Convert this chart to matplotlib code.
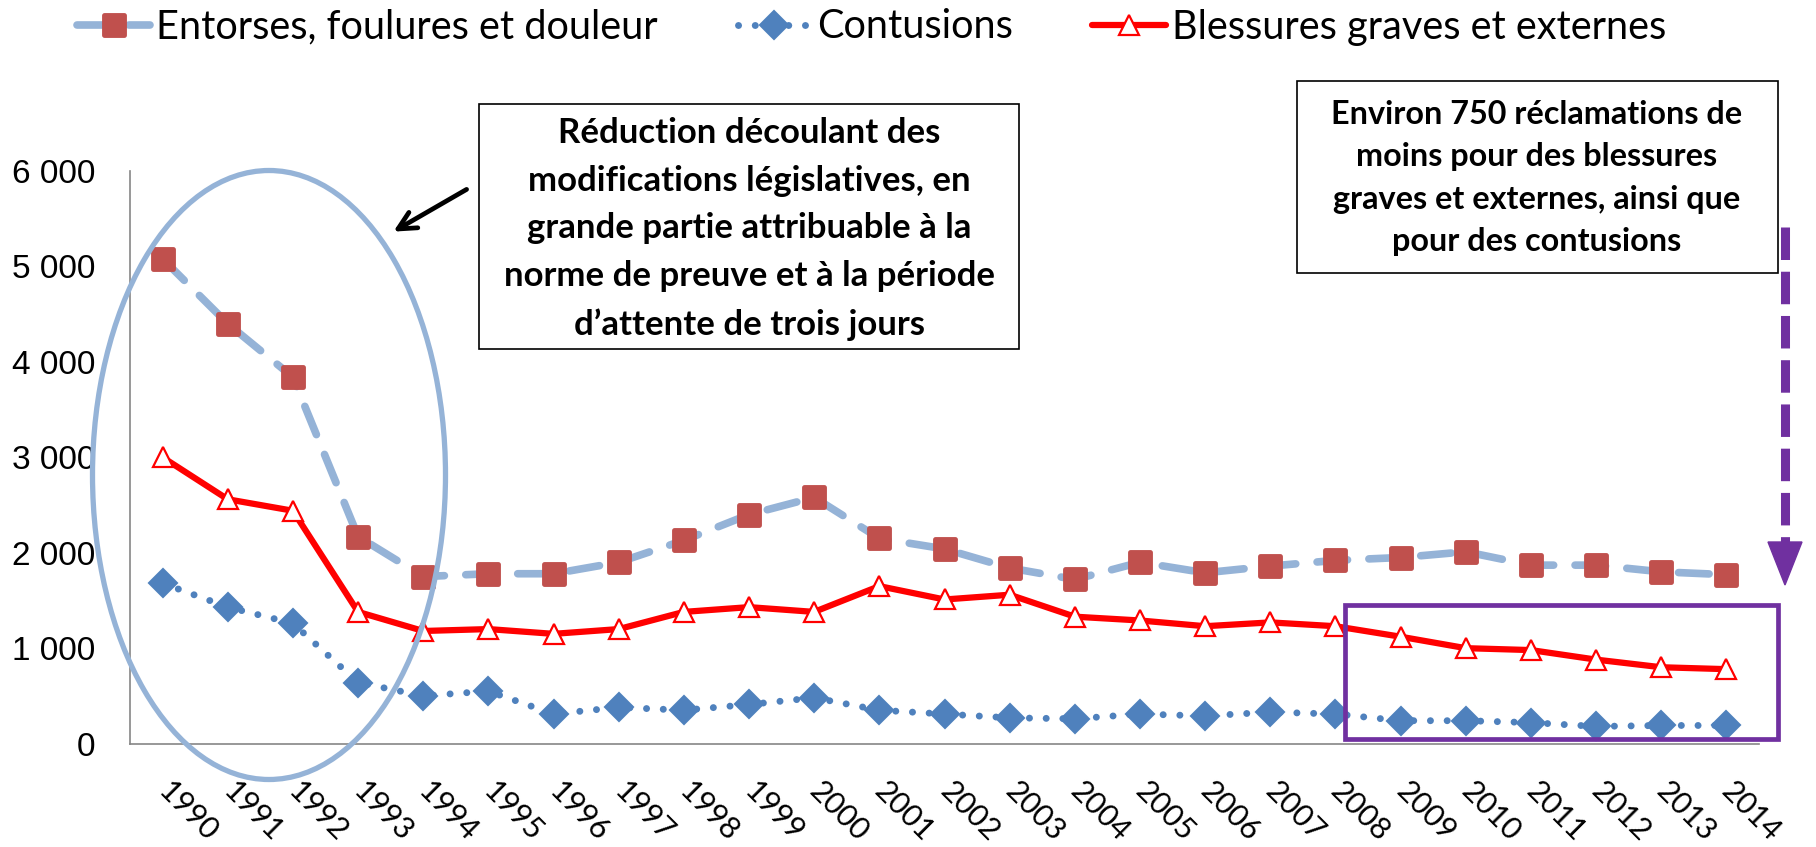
import numpy as np
import matplotlib.pyplot as plt
from matplotlib.patches import Ellipse, Rectangle, Polygon
from matplotlib.lines import Line2D
from matplotlib.markers import MarkerStyle

plt.rcParams['font.family'] = ['Lato', 'DejaVu Sans']

# données
annees = ['1990', '1991', '1992', '1993', '1994', '1995', '1996', '1997', '1998',
          '1999', '2000', '2001', '2002', '2003', '2004', '2005', '2006', '2007',
          '2008', '2009', '2010', '2011', '2012', '2013', '2014']
entorses = [5080, 4400, 3840, 2170, 1750, 1780, 1780, 1900, 2130, 2400, 2580, 2150,
            2040, 1840, 1720, 1900, 1790, 1860, 1920, 1950, 2010, 1870, 1870, 1800, 1770]
contusions = [1680, 1430, 1260, 640, 500, 550, 310, 380, 350, 410, 480, 350,
              310, 270, 260, 310, 290, 330, 310, 240, 240, 220, 180, 190, 190]
blessures = [3000, 2560, 2440, 1380, 1180, 1200, 1150, 1200, 1380, 1430, 1380, 1650,
             1510, 1560, 1330, 1290, 1230, 1270, 1230, 1120, 1000, 980, 880, 800, 780]
y_ticks = [0, 1000, 2000, 3000, 4000, 5000, 6000]
noms = ['Entorses, foulures et douleur', 'Contusions', 'Blessures graves et externes']

texte_gauche = ("Réduction découlant des\nmodifications législatives, en\n"
                "grande partie attribuable à la\nnorme de preuve et à la période\n"
                "d’attente de trois jours")
texte_droite = ("Environ 750 réclamations de\nmoins pour des blessures\n"
                "graves et externes, ainsi que\npour des contusions")

W, H = 1816, 847


def fx(px):
    return px / W


def fy(py):
    # py measured from the top of the image
    return 1 - py / H


fig = plt.figure(figsize=(W / 100, H / 100), dpi=100)
ax = fig.add_axes([fx(130), fy(743.6), fx(1759 - 130), (743.6 - 171) / H])

x = np.arange(len(annees))
ax.plot(x, entorses, color='#95B3D7', lw=5.5, dashes=(4, 2.8), dash_capstyle='round',
        marker=MarkerStyle('s', joinstyle='round'), ms=14.5, mfc='#C0504D',
        mec='#C0504D', mew=3.5, label=noms[0], zorder=3)
ax.plot(x, contusions, color='#4F81BD', lw=5, dashes=(0.01, 2.4), dash_capstyle='round',
        marker='D', ms=14, mfc='#4F81BD', mec='#4F81BD', mew=1.5,
        label=noms[1], zorder=4)
ax.plot(x, blessures, color='#FF0000', lw=4.5, solid_capstyle='round',
        marker='^', ms=15, mfc='white', mec='#FF0000', mew=1.6,
        label=noms[2], zorder=5)

ax.set_xlim(-0.5, len(annees) - 0.5)
ax.set_ylim(0, 6000)
ax.set_yticks(y_ticks)
ax.set_yticklabels([f"{v:,}".replace(',', ' ') for v in y_ticks],
                   family=['Liberation Sans', 'DejaVu Sans'], fontsize=24)
ax.set_xticks(x)
ax.set_xticklabels(annees, rotation=-45, ha='left', va='center',
                   rotation_mode='anchor', fontsize=22)
ax.tick_params(axis='y', length=0, pad=25)
ax.tick_params(axis='x', length=0, pad=31)
for s in ['top', 'right']:
    ax.spines[s].set_visible(False)
for s in ['left', 'bottom']:
    ax.spines[s].set_color('#868686')
    ax.spines[s].set_linewidth(1.2)

fig.legend(loc='center left', bbox_to_anchor=(fx(77), fy(27)), ncol=3,
           frameon=False, fontsize=28.6, handlelength=1.85, handletextpad=0.15,
           columnspacing=2.0, borderpad=0, borderaxespad=0)

# ellipse autour des premières années
fig.add_artist(Ellipse((fx(269), fy(475)), fx(353), 609 / H, fill=False,
                       ec='#95B3D7', lw=3.8))

# encadrés de texte
fig.add_artist(Rectangle((fx(479), fy(349)), fx(1019 - 479), (349 - 104) / H,
                         fill=False, ec='black', lw=1.2, zorder=6))
fig.text(fx(749), fy(229), texte_gauche, ha='center', va='center',
         fontsize=25, fontweight='bold', linespacing=1.6, zorder=7)
fig.add_artist(Rectangle((fx(1297), fy(273)), fx(1778 - 1297), (273 - 81) / H,
                         fill=False, ec='black', lw=1.2, zorder=6))
fig.text(fx(1537), fy(178), texte_droite, ha='center', va='center',
         fontsize=23.3, fontweight='bold', linespacing=1.56, zorder=7)

# flèche noire
ax.annotate('', xy=(fx(391), fy(233)), xycoords='figure fraction',
            xytext=(fx(469), fy(188)), textcoords='figure fraction',
            arrowprops=dict(arrowstyle='->', lw=3.4, color='black',
                            mutation_scale=32))

# cadre violet et flèche pointillée
fig.add_artist(Rectangle((fx(1345), fy(739)), fx(1778 - 1345), (739 - 605) / H,
                         fill=False, ec='#7030A0', lw=3.4, zorder=6))
fig.add_artist(Line2D([fx(1785), fx(1785)], [fy(227), fy(548)], color='#7030A0',
                      lw=6.5, dashes=(3.6, 1.3), zorder=6))
fig.add_artist(Polygon([(fx(1768), fy(542)), (fx(1802), fy(542)), (fx(1785), fy(585))],
                       closed=True, fc='#7030A0', ec='#7030A0', lw=1, zorder=6))

fig.savefig('out.png', dpi=100)
